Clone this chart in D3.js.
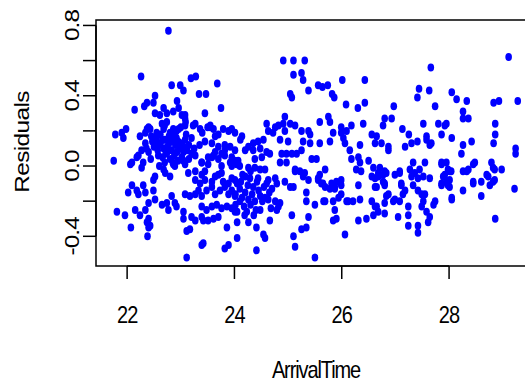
<!DOCTYPE html>
<html>
<head>
<meta charset="utf-8">
<script src="https://cdn.jsdelivr.net/npm/d3@7"></script>
<style>
body { margin: 0; background: #fff; }
text { font-family: "Liberation Sans", Arial, sans-serif; }
</style>
</head>
<body>
<div id="chart"></div>
<script>
// [ArrivalTime, Residual]
var residualPoints = [
  [22.77,0.77],[22.26,0.51],[22.83,0.46],[22.99,0.46],[23.05,0.43],[23.19,0.50],[23.28,0.51],[23.68,0.47],[23.34,0.41],[23.47,0.41],
  [22.52,0.40],[22.93,0.37],[22.37,0.36],[22.32,0.34],[22.14,0.32],[22.49,0.36],[22.68,0.33],[23.75,0.33],[23.45,0.30],[22.52,0.30],
  [22.61,0.29],[22.74,0.30],[22.86,0.31],[22.96,0.33],[23.02,0.29],[23.08,0.29],[23.09,0.25],
  [21.78,0.18],[21.90,0.19],[21.98,0.21],[22.37,0.21],[22.43,0.21],[22.65,0.24],[22.68,0.21],[22.86,0.21],[22.96,0.21],[23.23,0.23],
  [23.36,0.21],[23.55,0.23],[23.61,0.21],[23.79,0.21],[23.89,0.20],[24.01,0.19],
  [22.40,0.22],[22.55,0.19],[22.70,0.23],[22.80,0.19],[23.00,0.22],[23.10,0.18],[23.40,0.19],[23.50,0.22],[23.70,0.18],[23.95,0.21],
  [22.74,0.25],[22.92,0.20],[23.08,0.27],[23.08,0.23],[23.27,0.24],[23.55,0.22],
  [21.75,0.03],[21.93,0.16],[22.06,0.01],[22.09,0.02],[22.18,0.05],[22.21,0.06],[22.27,-0.01],[22.27,0.09],[22.34,0.13],[22.24,0.17],[22.34,0.19],
  [22.45,0.17],[22.55,0.16],[22.62,0.18],[22.70,0.15],[22.78,0.17],[22.85,0.14],[22.92,0.16],[23.00,0.13],[23.08,0.15],[23.15,0.12],
  [22.50,0.11],[22.60,0.12],[22.68,0.10],[22.75,0.11],[22.83,0.09],[22.90,0.12],[22.98,0.10],[23.05,0.08],[23.12,0.09],
  [22.58,0.06],[22.66,0.05],[22.72,0.07],[22.80,0.04],[22.88,0.06],[22.95,0.03],[23.02,0.05],[22.62,0.13],[22.75,0.08],[22.85,0.02],
  [22.95,0.14],[23.05,0.11],[22.47,0.14],[22.57,0.09],[22.88,0.17],[23.20,0.16],[23.25,0.10],[22.40,0.08],
  [22.52,0.13],[22.66,0.15],[22.78,0.13],[22.93,0.08],[22.70,0.02],[22.60,0.00],[22.44,0.04],[22.36,0.10],[22.30,0.02],[23.15,0.04],
  [23.64,0.17],[23.70,0.11],[23.82,0.09],[23.92,0.11],[24.01,0.09],[23.61,0.06],[23.51,0.05],[23.39,0.02],[23.23,0.07],[23.58,0.13],
  [23.82,0.12],[23.76,0.07],[23.95,0.05],[23.45,0.14],[23.35,0.12],
  [22.52,-0.06],[22.49,-0.08],[22.68,-0.02],[22.71,-0.04],[22.80,-0.06],[22.86,0.01],[22.89,0.00],
  [22.02,-0.15],[22.09,-0.11],[22.18,-0.14],[22.30,-0.11],[22.34,-0.15],[22.21,-0.16],[22.49,-0.14],
  [22.40,-0.21],[22.52,-0.19],[22.65,-0.22],[22.74,-0.21],[22.77,-0.25],
  [21.81,-0.26],[21.96,-0.28],[22.15,-0.25],[22.24,-0.28],[22.34,-0.25],
  [22.40,-0.30],[22.37,-0.32],[22.43,-0.34],[22.40,-0.35],[22.07,-0.35],[22.38,-0.40],
  [22.83,-0.17],[22.89,-0.21],[22.92,-0.23],
  [23.05,-0.26],[23.05,-0.30],[23.20,-0.29],[23.11,-0.37],[23.17,-0.36],
  [23.39,-0.29],[23.42,-0.31],[23.27,-0.31],[23.42,-0.44],[23.39,-0.45],[23.11,-0.52],[23.82,-0.47],[23.89,-0.45],[23.86,-0.35],[24.05,-0.41],
  [23.08,-0.16],[23.17,-0.17],[23.27,-0.16],[23.33,-0.14],[23.39,-0.17],[23.48,-0.14],[23.58,-0.12],[23.64,-0.16],[23.73,-0.14],[23.82,-0.12],
  [23.89,-0.16],[23.95,-0.14],[24.01,-0.17],
  [23.14,-0.04],[23.27,-0.03],[23.39,-0.05],[23.45,-0.03],[23.27,-0.08],[23.36,-0.10],[23.45,-0.08],[23.58,-0.09],[23.64,-0.06],[23.70,-0.05],
  [23.76,-0.04],[23.79,-0.09],[23.89,-0.10],[23.95,-0.07],[24.01,-0.08],
  [23.39,-0.23],[23.48,-0.25],[23.58,-0.23],[23.67,-0.22],[23.76,-0.24],[23.86,-0.23],[23.95,-0.24],[24.01,-0.26],
  [23.51,-0.31],[23.61,-0.30],[23.70,-0.29],
  [23.05,0.03],[23.08,0.01],[23.20,0.07],[23.27,0.06],[23.58,0.05],[23.64,0.08],[23.70,0.04],[23.82,0.06],[23.92,0.02],[23.95,0.00],
  [24.01,0.03],[23.76,0.00],[23.51,0.01],[23.39,0.02],
  [24.94,0.28],[24.60,0.24],[24.76,0.22],[24.82,0.23],[24.91,0.24],[25.04,0.24],[25.13,0.23],[24.63,0.20],[24.72,0.19],[24.94,0.20],
  [25.25,0.20],[25.38,0.20],[25.41,0.18],[25.28,0.14],[24.85,0.15],[25.00,0.14],[24.14,0.17],[24.11,0.15],
  [24.26,0.11],[24.35,0.13],[24.44,0.14],[24.54,0.15],[24.20,0.09],[24.35,0.09],[24.48,0.10],[24.60,0.08],[24.66,0.07],[24.38,0.04],[24.51,0.05],
  [24.88,0.07],[24.97,0.07],[25.07,0.07],[25.16,0.07],[24.85,0.02],[24.97,0.02],[25.25,0.09],[25.41,0.13],[25.44,0.04],[25.53,0.04],
  [25.59,0.25],[25.75,0.28],[25.78,0.25],[25.84,0.19],[25.78,0.14],[25.59,0.13],
  [25.99,0.22],[26.09,0.20],[26.18,0.23],[26.40,0.24],[26.56,0.18],[26.65,0.17],
  [25.99,0.19],[26.03,0.16],[26.06,0.13],[26.15,0.09],[26.31,0.05],[26.34,0.02],[26.18,0.04],[26.50,0.03],[26.34,0.12],
  [26.27,-0.02],[26.36,-0.03],[26.59,-0.01],[26.62,-0.07],[26.56,-0.06],
  [24.07,0.03],[24.04,0.01],[24.10,0.00],[24.26,-0.01],[24.20,-0.06],[24.29,-0.07],[24.38,-0.01],[24.48,-0.02],[24.57,-0.02],[24.44,-0.07],
  [24.63,-0.08],[24.76,-0.07],[24.94,-0.09],[25.13,-0.02],[25.22,-0.03],[25.31,-0.04],[25.38,-0.08],[25.59,-0.05],[25.69,-0.02],[25.56,-0.08],
  [25.65,-0.10],[25.81,-0.10],[25.90,-0.09],[25.99,-0.08],[25.99,-0.11],[25.87,-0.13],
  [24.05,-0.10],[24.10,-0.13],[24.02,-0.16],[24.14,-0.18],[24.02,-0.22],[24.05,-0.26],[24.19,-0.28],[24.05,-0.32],
  [24.26,-0.19],[24.38,-0.20],[24.48,-0.17],[24.57,-0.18],[24.23,-0.26],[24.26,-0.32],[24.41,-0.35],[24.48,-0.25],[24.63,-0.19],[24.66,-0.31],
  [24.57,-0.41],[24.54,-0.39],[24.41,-0.48],[24.76,-0.20],[24.85,-0.21],[24.79,-0.25],[24.82,-0.23],
  [24.12,-0.09],[24.25,-0.11],[24.33,-0.16],[24.42,-0.09],[24.52,-0.20],[24.60,-0.10],[24.70,-0.13],[24.18,-0.23],[24.36,-0.28],[24.68,-0.24],
  [25.07,-0.28],[25.10,-0.40],[25.13,-0.46],[25.25,-0.36],[25.34,-0.35],[25.38,-0.29],[25.34,-0.20],[25.50,-0.22],[25.66,-0.20],[25.69,-0.20],
  [25.84,-0.20],[25.87,-0.25],[25.84,-0.31],[25.90,-0.30],[26.06,-0.39],[26.12,-0.20],[26.21,-0.20],[26.34,-0.19],[26.31,-0.31],[26.46,-0.30],
  [26.56,-0.20],[26.59,-0.28],[26.65,-0.23],[25.50,-0.52],
  [25.34,-0.15],[26.65,-0.12],[25.87,-0.12],[25.78,-0.13],[25.69,-0.12],[25.62,-0.10],[25.56,-0.07],[25.10,-0.12],[25.04,-0.12],[24.79,-0.10],
  [25.28,-0.06],[25.13,-0.03],[25.99,-0.16],[25.94,-0.18],[26.09,-0.20],[26.31,-0.11],
  [24.15,-0.05],[24.30,-0.03],[24.35,-0.12],[24.45,-0.14],[24.20,-0.15],[24.55,-0.12],[24.65,-0.15],[24.10,-0.20],[24.30,-0.22],[24.40,-0.25],
  [24.91,0.60],[25.10,0.60],[25.31,0.60],[25.10,0.52],[25.25,0.53],[25.28,0.49],[25.38,0.43],[25.04,0.41],[25.07,0.39],[25.56,0.46],
  [25.64,0.45],[25.74,0.46],[25.82,0.41],[25.86,0.39],[26.01,0.49],[26.43,0.49],[26.08,0.35],[26.30,0.33],[26.43,0.36],
  [29.11,0.62],[27.66,0.56],[27.44,0.44],[27.41,0.39],[27.63,0.43],[28.05,0.42],[28.14,0.38],[28.33,0.37],[26.97,0.34],[27.74,0.34],
  [28.83,0.36],[28.93,0.37],[29.28,0.37],[28.26,0.31],[28.26,0.27],[28.36,0.27],[26.80,0.27],[26.93,0.27],[26.77,0.23],[27.52,0.24],
  [27.80,0.24],[27.92,0.23],[27.95,0.24],[27.13,0.21],[27.25,0.18],[27.86,0.18],[28.05,0.16],[28.86,0.24],[28.86,0.18],[28.83,0.13],
  [26.62,0.13],[26.74,0.13],[26.87,0.11],[26.87,0.09],[27.18,0.11],[27.30,0.13],[27.41,0.14],[27.58,0.17],[27.58,0.15],[27.67,0.13],
  [27.64,0.12],[28.26,0.12],[28.42,0.14],[28.23,0.07],[29.24,0.10],[29.24,0.07],
  [26.71,-0.01],[26.68,-0.06],[26.77,-0.05],[26.83,-0.04],[26.80,-0.10],[26.99,-0.05],[27.08,-0.03],[27.11,-0.11],[27.27,-0.02],[27.30,-0.06],
  [27.33,-0.11],[27.33,0.02],[27.42,-0.07],[27.55,0.02],[27.52,-0.06],[27.64,-0.07],[27.86,0.02],[27.95,0.02],[27.98,-0.02],[27.89,-0.06],
  [27.95,-0.09],[28.01,-0.12],[28.26,-0.03],[28.36,-0.02],[28.48,0.02],[28.45,-0.09],[28.60,-0.09],[28.73,-0.06],[28.79,0.02],[28.85,-0.02],
  [28.98,-0.02],[28.82,-0.09],[28.76,-0.11],[29.22,-0.13],
  [27.36,-0.04],[27.45,-0.02],[27.86,-0.10],[28.04,-0.03],[27.92,-0.05],[28.26,-0.14],[28.70,-0.05],
  [28.82,-0.01],[28.85,-0.08],[28.60,-0.17],[28.45,-0.10],[28.45,0.01],[28.33,-0.03],[28.05,-0.19],[28.01,-0.03],[28.01,-0.08],[27.86,0.01],
  [27.86,-0.11],[27.98,-0.11],[28.86,-0.30],
  [26.62,-0.23],[26.68,-0.26],[26.80,-0.27],[26.80,-0.21],[26.96,-0.20],[27.08,-0.20],[27.05,-0.29],[27.24,-0.23],[27.24,-0.28],[27.24,-0.34],
  [27.42,-0.34],[27.42,-0.38],[27.49,-0.23],[27.52,-0.20],[27.58,-0.26],[27.61,-0.32],[27.64,-0.29],[27.71,-0.22],[27.74,-0.20],[28.05,-0.18],
  [27.49,-0.16],[27.55,-0.16],[27.42,-0.14],
  [26.80,-0.03],[26.68,-0.04],[26.62,-0.12],[26.77,-0.09],[26.80,-0.11],[26.87,-0.16],[26.83,-0.17],[26.99,-0.19],[27.08,-0.04],[27.11,-0.10],
  [27.14,-0.16],[27.18,-0.14]
];

var xTicks = [22, 24, 26, 28];
var yTicks = [-0.4, -0.2, 0.0, 0.2, 0.4, 0.6, 0.8];
var yTickLabels = [-0.4, 0.0, 0.4, 0.8];
var xTitle = "ArrivalTime";
var yTitle = "Residuals";

var width = 525, height = 385;
var plotLeft = 96, plotTop = 20, plotRight = 536, plotBottom = 266;
var stretch = 1.22;   // the reference is drawn slightly taller than wide

var svg = d3.select("#chart").append("svg")
    .attr("width", width)
    .attr("height", height);

var x = d3.scaleLinear().domain([21.42, 29.62]).range([plotLeft, plotRight]);
var y = d3.scaleLinear().domain([-0.569, 0.831]).range([plotBottom, plotTop]);

// points
svg.append("g")
    .selectAll("ellipse")
    .data(residualPoints)
    .enter()
    .append("ellipse")
    .attr("cx", d => x(d[0]))
    .attr("cy", d => y(d[1]))
    .attr("rx", 3.3)
    .attr("ry", 4.0)
    .style("fill", "#0000ff");

// box
svg.append("rect")
    .attr("x", plotLeft)
    .attr("y", plotTop)
    .attr("width", plotRight - plotLeft)
    .attr("height", plotBottom - plotTop)
    .style("fill", "none")
    .style("stroke", "#000")
    .style("stroke-width", 1.5);

// x axis
var xAxis = svg.append("g");
xAxis.append("line")
    .attr("x1", x(xTicks[0])).attr("x2", x(xTicks[xTicks.length - 1]))
    .attr("y1", plotBottom).attr("y2", plotBottom)
    .style("stroke", "#000").style("stroke-width", 1.5);
xAxis.selectAll(".xt")
    .data(xTicks)
    .enter()
    .append("line")
    .attr("x1", d => x(d)).attr("x2", d => x(d))
    .attr("y1", plotBottom).attr("y2", plotBottom + 13)
    .style("stroke", "#000").style("stroke-width", 1.5);
xAxis.selectAll(".xl")
    .data(xTicks)
    .enter()
    .append("text")
    .attr("text-anchor", "middle")
    .attr("transform", d => "translate(" + x(d) + ",323) scale(1," + stretch + ")")
    .style("font-size", "20px")
    .style("letter-spacing", "-0.9px")
    .text(d => d);

// y axis
var yAxis = svg.append("g");
yAxis.append("line")
    .attr("x1", plotLeft).attr("x2", plotLeft)
    .attr("y1", y(yTicks[0])).attr("y2", y(yTicks[yTicks.length - 1]))
    .style("stroke", "#000").style("stroke-width", 1.5);
yAxis.selectAll(".yt")
    .data(yTicks)
    .enter()
    .append("line")
    .attr("x1", plotLeft - 13).attr("x2", plotLeft)
    .attr("y1", d => y(d)).attr("y2", d => y(d))
    .style("stroke", "#000").style("stroke-width", 1.5);
yAxis.selectAll(".yl")
    .data(yTickLabels)
    .enter()
    .append("text")
    .attr("text-anchor", "middle")
    .attr("transform", d => "translate(79," + y(d) + ") scale(1," + stretch + ") rotate(-90)")
    .style("font-size", "20px")
    .style("letter-spacing", "-0.7px")
    .text(d => d.toFixed(1));

// titles
svg.append("text")
    .attr("text-anchor", "middle")
    .attr("transform", "translate(316,378) scale(1," + stretch + ")")
    .style("font-size", "20px")
    .style("letter-spacing", "-1.1px")
    .text(xTitle);

svg.append("text")
    .attr("text-anchor", "middle")
    .attr("transform", "translate(29,142) scale(1," + stretch + ") rotate(-90)")
    .style("font-size", "20px")
    .style("letter-spacing", "-0.5px")
    .text(yTitle);
</script>
</body>
</html>
